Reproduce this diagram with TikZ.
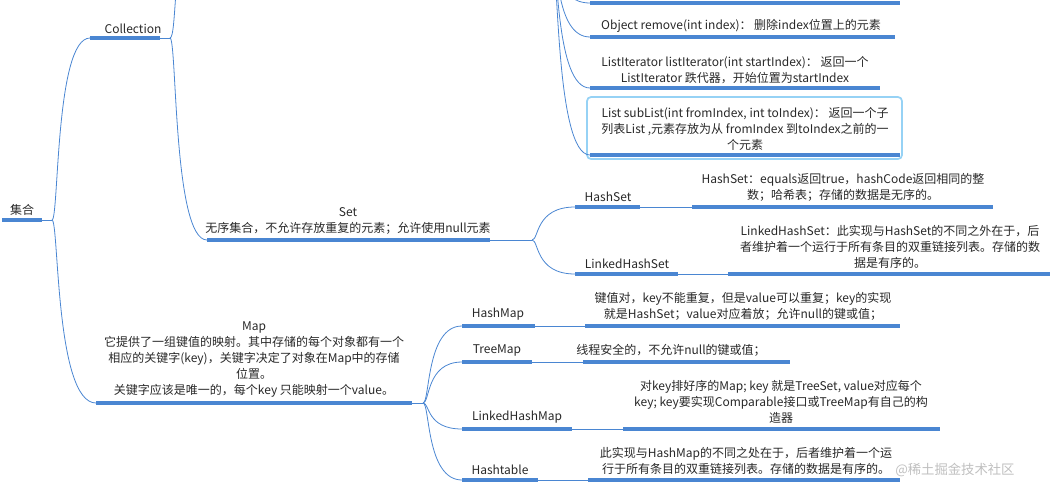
\documentclass[tikz,border=0pt]{standalone}
\usepackage{fontspec}
\usetikzlibrary{calc}
\setmainfont{Noto Sans CJK SC}
\definecolor{blu}{RGB}{74,134,210}
\definecolor{boxb}{RGB}{150,210,245}
\definecolor{txt}{RGB}{40,40,40}
\newcommand{\brc}[2]{\draw[conn] (#1) .. controls ($(#1)+(7,0)$) and ($(#1|-#2)+(3,0)$) .. (#2);}
\begin{document}
\begin{tikzpicture}[x=0.75pt,y=-0.75pt,
  ul/.style={draw=blu,line width=2.3pt},
  conn/.style={draw=blu,line width=0.6pt},
  lbl/.style={font=\fontsize{9}{12}\selectfont,text=txt,align=center,inner sep=1pt,anchor=south}]
\useasboundingbox (0,0) rectangle (1062,490);
\clip (0,0) rectangle (1062,490);
% coordinates
\coordinate (rootL) at (2,220); \coordinate (rootR) at (42,220); \coordinate (rootJ) at (52,220);
\coordinate (colL) at (90,38); \coordinate (colR) at (160,38); \coordinate (colJ) at (170,38);
\coordinate (setL) at (207,240); \coordinate (setR) at (490,240); \coordinate (setJ) at (532,240);
\coordinate (mapL) at (96,403); \coordinate (mapR) at (412,403); \coordinate (mapJ) at (423,403);
\coordinate (listP) at (552,-40); \coordinate (listUp) at (190,-60);
% root
\node[lbl] (root) at (22,217) {集合};
\draw[ul] (rootL) -- (rootR);
\draw[conn] (rootR) -- (rootJ);
\brc{rootJ}{colL}
\brc{rootJ}{mapL}
% Collection
\node[lbl] (col) at (133,35) {Collection};
\draw[ul] (colL) -- (colR);
\draw[conn] (colR) -- (colJ);
\brc{colJ}{setL}
\brc{colJ}{listUp}
% list items
\coordinate (i0L) at (590,3); \coordinate (i0R) at (900,3);
\coordinate (i1L) at (590,37); \coordinate (i1R) at (895,37);
\coordinate (i2L) at (590,88); \coordinate (i2R) at (880,88);
\coordinate (i3L) at (590,155); \coordinate (i3R) at (900,155);
\draw[boxb,line width=1.3pt,rounded corners=3pt,fill=white] (587,97) rectangle (902,159);
\brc{listP}{i0L}
\brc{listP}{i1L}
\brc{listP}{i2L}
\brc{listP}{i3L}
\draw[ul] (i0L) -- (i0R);
\draw[ul] (i1L) -- (i1R);
\draw[ul] (i2L) -- (i2R);
\draw[ul] (i3L) -- (i3R);
\node[lbl] (rem) at (741,34) {Object remove(int index)： 删除index位置上的元素};
\node[lbl] (lit) at (735,85) {ListIterator listIterator(int startIndex)： 返回一个\\ListIterator 跌代器，开始位置为startIndex};
\node[lbl] (sub) at (745,152) {List subList(int fromIndex, int toIndex)： 返回一个子\\列表List ,元素存放为从 fromIndex 到toIndex之前的一\\个元素};
% Set
\node[lbl] (set) at (348,236) {Set\\无序集合，不允许存放重复的元素；允许使用null元素};
\draw[ul] (setL) -- (setR);
\draw[conn] (setR) -- (setJ);
\coordinate (hsL) at (575,207); \coordinate (hsR) at (640,207);
\coordinate (hsdL) at (692,207); \coordinate (hsdR) at (993,207);
\coordinate (lhsL) at (575,274); \coordinate (lhsR) at (678,274);
\coordinate (lhsdL) at (728,274); \coordinate (lhsdR) at (1050,274);
\brc{setJ}{hsL}
\brc{setJ}{lhsL}
\draw[ul] (hsL) -- (hsR); \draw[conn] (hsR) -- (hsdL); \draw[ul] (hsdL) -- (hsdR);
\draw[ul] (lhsL) -- (lhsR); \draw[conn] (lhsR) -- (lhsdL); \draw[ul] (lhsdL) -- (lhsdR);
\node[lbl] (hs) at (608,203) {HashSet};
\node[lbl] (hsd) at (843,203) {HashSet：equals返回true，hashCode返回相同的整\\数；哈希表；存储的数据是无序的。};
\node[lbl] (lhs) at (627,270) {LinkedHashSet};
\node[lbl] (lhsd) at (890,270) {LinkedHashSet：此实现与HashSet的不同之外在于，后\\者维护着一个运行于所有条目的双重链接列表。存储的数\\据是有序的。};
% Map
\node[lbl] (map) at (254,399) {Map\\它提供了一组键值的映射。其中存储的每个对象都有一个\\相应的关键字(key)，关键字决定了对象在Map中的存储\\位置。\\关键字应该是唯一的，每个key 只能映射一个value。};
\draw[ul] (mapL) -- (mapR);
\draw[conn] (mapR) -- (mapJ);
\coordinate (hmL) at (462,326); \coordinate (hmR) at (535,326);
\coordinate (hmdL) at (585,326); \coordinate (hmdR) at (900,326);
\coordinate (tmL) at (462,362); \coordinate (tmR) at (532,362);
\coordinate (tmdL) at (583,362); \coordinate (tmdR) at (790,362);
\coordinate (lhmL) at (462,429); \coordinate (lhmR) at (572,429);
\coordinate (lhmdL) at (623,429); \coordinate (lhmdR) at (940,429);
\coordinate (htL) at (462,480); \coordinate (htR) at (538,480);
\coordinate (htdL) at (588,480); \coordinate (htdR) at (900,480);
\brc{mapJ}{hmL}
\brc{mapJ}{tmL}
\brc{mapJ}{lhmL}
\brc{mapJ}{htL}
\draw[ul] (hmL) -- (hmR); \draw[conn] (hmR) -- (hmdL); \draw[ul] (hmdL) -- (hmdR);
\draw[ul] (tmL) -- (tmR); \draw[conn] (tmR) -- (tmdL); \draw[ul] (tmdL) -- (tmdR);
\draw[ul] (lhmL) -- (lhmR); \draw[conn] (lhmR) -- (lhmdL); \draw[ul] (lhmdL) -- (lhmdR);
\draw[ul] (htL) -- (htR); \draw[conn] (htR) -- (htdL); \draw[ul] (htdL) -- (htdR);
\node[lbl] (hm) at (498,322) {HashMap};
\node[lbl] (hmd) at (743,322) {键值对，key不能重复，但是value可以重复；key的实现\\就是HashSet；value对应着放；允许null的键或值；};
\node[lbl] (tm) at (497,358) {TreeMap};
\node[lbl] (tmd) at (671,358) {线程安全的，不允许null的键或值；};
\node[lbl] (lhm) at (517,425) {LinkedHashMap};
\node[lbl] (lhmd) at (781,425) {对key排好序的Map; key 就是TreeSet, value对应每个\\key; key要实现Comparable接口或TreeMap有自己的构\\造器};
\node[lbl] (ht) at (500,476) {Hashtable};
\node[lbl] (htd) at (746,476) {此实现与HashMap的不同之处在于，后者维护着一个运\\行于所有条目的双重链接列表。存储的数据是有序的。};
\node[font=\fontsize{10}{12}\selectfont,text=black!25,anchor=west,inner sep=0] (wm) at (895,470) {@稀土掘金技术社区};
\end{tikzpicture}
\end{document}
